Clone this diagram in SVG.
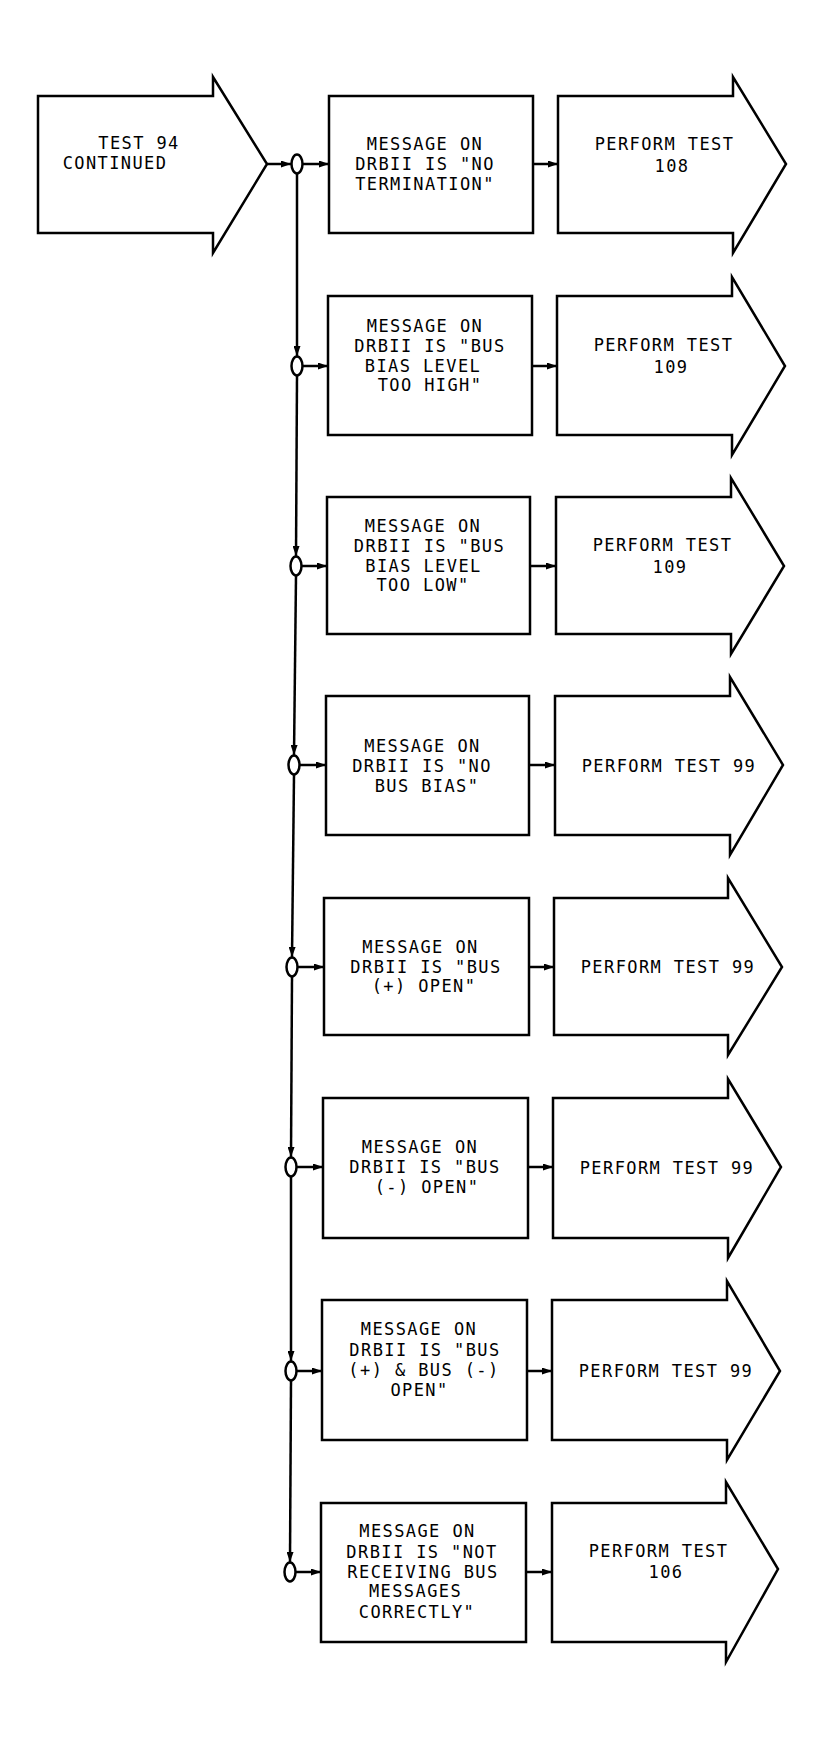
<svg xmlns="http://www.w3.org/2000/svg" width="824" height="1737" viewBox="0 0 824 1737">
<style>
.s{fill:#fff;stroke:#000;stroke-width:2.5;stroke-linejoin:miter}
.c{fill:none;stroke:#000;stroke-width:2.5}
.o{fill:#fff;stroke:#000;stroke-width:2.5}
text{font-family:"DejaVu Sans Mono","Liberation Mono",monospace;font-size:17px;letter-spacing:1.4px;fill:#000;text-anchor:middle}
</style>
<defs>
<marker id="ah" markerWidth="10" markerHeight="7" refX="10" refY="3.5" orient="auto" markerUnits="userSpaceOnUse">
<path d="M0,0 L10,3.5 L0,7 Z" fill="#000"/>
</marker>
</defs>
<rect width="824" height="1737" fill="#fff"/>

<g id="connectors">
<line class="c" x1="267" y1="164" x2="291" y2="164" marker-end="url(#ah)"/>
<line class="c" x1="302" y1="164" x2="329" y2="164" marker-end="url(#ah)"/>
<line class="c" x1="533" y1="164" x2="558" y2="164" marker-end="url(#ah)"/>
<line class="c" x1="302" y1="366" x2="328" y2="366" marker-end="url(#ah)"/>
<line class="c" x1="532" y1="366" x2="557" y2="366" marker-end="url(#ah)"/>
<line class="c" x1="301" y1="566" x2="327" y2="566" marker-end="url(#ah)"/>
<line class="c" x1="530" y1="566" x2="556" y2="566" marker-end="url(#ah)"/>
<line class="c" x1="299" y1="765" x2="326" y2="765" marker-end="url(#ah)"/>
<line class="c" x1="529" y1="765" x2="555" y2="765" marker-end="url(#ah)"/>
<line class="c" x1="297" y1="967" x2="324" y2="967" marker-end="url(#ah)"/>
<line class="c" x1="529" y1="967" x2="554" y2="967" marker-end="url(#ah)"/>
<line class="c" x1="296" y1="1167" x2="323" y2="1167" marker-end="url(#ah)"/>
<line class="c" x1="528" y1="1167" x2="553" y2="1167" marker-end="url(#ah)"/>
<line class="c" x1="296" y1="1371" x2="322" y2="1371" marker-end="url(#ah)"/>
<line class="c" x1="527" y1="1371" x2="552" y2="1371" marker-end="url(#ah)"/>
<line class="c" x1="295" y1="1572" x2="321" y2="1572" marker-end="url(#ah)"/>
<line class="c" x1="526" y1="1572" x2="552" y2="1572" marker-end="url(#ah)"/>
<line class="c" x1="297" y1="173" x2="297" y2="356" marker-end="url(#ah)"/>
<line class="c" x1="297" y1="376" x2="296" y2="556" marker-end="url(#ah)"/>
<line class="c" x1="296" y1="576" x2="294" y2="755" marker-end="url(#ah)"/>
<line class="c" x1="294" y1="775" x2="292" y2="957" marker-end="url(#ah)"/>
<line class="c" x1="292" y1="977" x2="291" y2="1157" marker-end="url(#ah)"/>
<line class="c" x1="291" y1="1177" x2="291" y2="1361" marker-end="url(#ah)"/>
<line class="c" x1="291" y1="1381" x2="290" y2="1562" marker-end="url(#ah)"/>
</g>

<g id="start">
<path class="s" d="M38,96 H213 V77 L267,164 L213,253 V233 H38 Z"/>
<text x="139" y="149">TEST 94</text>
<text x="115" y="169">CONTINUED</text>
</g>

<g id="junctions">
<ellipse class="o" cx="297" cy="164" rx="5.5" ry="9.5"/>
<ellipse class="o" cx="297" cy="366" rx="5.5" ry="9.5"/>
<ellipse class="o" cx="296" cy="566" rx="5.5" ry="9.5"/>
<ellipse class="o" cx="294" cy="765" rx="5.5" ry="9.5"/>
<ellipse class="o" cx="292" cy="967" rx="5.5" ry="9.5"/>
<ellipse class="o" cx="291" cy="1167" rx="5.5" ry="9.5"/>
<ellipse class="o" cx="291" cy="1371" rx="5.5" ry="9.5"/>
<ellipse class="o" cx="290" cy="1572" rx="5.5" ry="9.5"/>
</g>

<g id="msg1">
<rect class="s" x="329" y="96" width="204" height="137"/>
<text x="425" y="150">MESSAGE ON</text>
<text x="425" y="170">DRBII IS "NO</text>
<text x="425" y="190">TERMINATION"</text>
</g>
<g id="act1">
<path class="s" d="M558,96 H733 V77 L786,164 L733,253 V233 H558 Z"/>
<text x="664.5" y="150">PERFORM TEST</text>
<text x="672" y="172">108</text>
</g>

<g id="msg2">
<rect class="s" x="328" y="296" width="204" height="139"/>
<text x="425" y="332">MESSAGE ON</text>
<text x="430" y="352">DRBII IS "BUS</text>
<text x="423" y="372">BIAS LEVEL</text>
<text x="430" y="391">TOO HIGH"</text>
</g>
<g id="act2">
<path class="s" d="M557,296 H732 V277 L785,366 L732,455 V435 H557 Z"/>
<text x="663.5" y="351">PERFORM TEST</text>
<text x="671" y="373">109</text>
</g>

<g id="msg3">
<rect class="s" x="327" y="497" width="203" height="137"/>
<text x="423" y="532">MESSAGE ON</text>
<text x="429.5" y="552">DRBII IS "BUS</text>
<text x="423.5" y="572">BIAS LEVEL</text>
<text x="423" y="591">TOO LOW"</text>
</g>
<g id="act3">
<path class="s" d="M556,497 H731 V478 L784,566 L731,654 V634 H556 Z"/>
<text x="662.5" y="551">PERFORM TEST</text>
<text x="670" y="573">109</text>
</g>

<g id="msg4">
<rect class="s" x="326" y="696" width="203" height="139"/>
<text x="422.5" y="752">MESSAGE ON</text>
<text x="422" y="772">DRBII IS "NO</text>
<text x="427" y="792">BUS BIAS"</text>
</g>
<g id="act4">
<path class="s" d="M555,696 H730 V677 L783,765 L730,855 V835 H555 Z"/>
<text x="669" y="772">PERFORM TEST 99</text>
</g>

<g id="msg5">
<rect class="s" x="324" y="898" width="205" height="137"/>
<text x="420.5" y="953">MESSAGE ON</text>
<text x="426" y="973">DRBII IS "BUS</text>
<text x="424" y="992">(+) OPEN"</text>
</g>
<g id="act5">
<path class="s" d="M554,898 H728 V878 L782,967 L728,1055 V1035 H554 Z"/>
<text x="668" y="973">PERFORM TEST 99</text>
</g>

<g id="msg6">
<rect class="s" x="323" y="1098" width="205" height="140"/>
<text x="420" y="1153">MESSAGE ON</text>
<text x="425" y="1173">DRBII IS "BUS</text>
<text x="427" y="1193">(-) OPEN"</text>
</g>
<g id="act6">
<path class="s" d="M553,1098 H728 V1079 L781,1167 L728,1258 V1238 H553 Z"/>
<text x="667" y="1174">PERFORM TEST 99</text>
</g>

<g id="msg7">
<rect class="s" x="322" y="1300" width="205" height="140"/>
<text x="419" y="1335">MESSAGE ON</text>
<text x="425" y="1356">DRBII IS "BUS</text>
<text x="424" y="1376">(+) &amp; BUS (-)</text>
<text x="419.5" y="1396">OPEN"</text>
</g>
<g id="act7">
<path class="s" d="M552,1300 H727 V1281 L780,1371 L727,1460 V1440 H552 Z"/>
<text x="666" y="1377">PERFORM TEST 99</text>
</g>

<g id="msg8">
<rect class="s" x="321" y="1503" width="205" height="139"/>
<text x="417.5" y="1537">MESSAGE ON</text>
<text x="422" y="1558">DRBII IS "NOT</text>
<text x="423" y="1578">RECEIVING BUS</text>
<text x="415.5" y="1597">MESSAGES</text>
<text x="417" y="1618">CORRECTLY"</text>
</g>
<g id="act8">
<path class="s" d="M552,1503 H726 V1482 L778,1569 L726,1662 V1642 H552 Z"/>
<text x="658.5" y="1557">PERFORM TEST</text>
<text x="666" y="1578">106</text>
</g>
</svg>
